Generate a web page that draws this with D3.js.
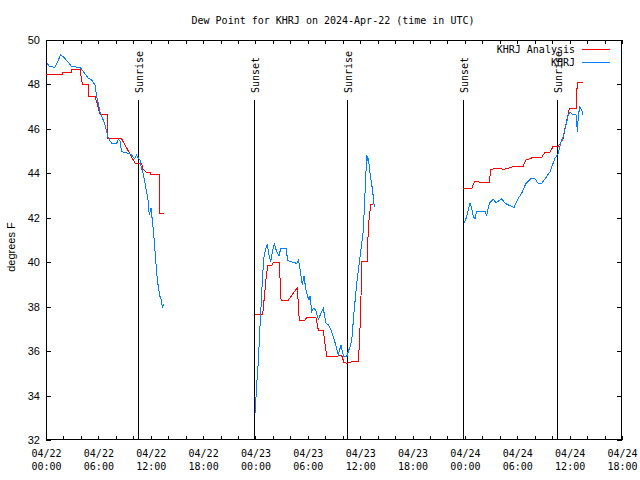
<!DOCTYPE html>
<html><head><meta charset="utf-8">
<script src="https://cdn.jsdelivr.net/npm/d3@7"></script>
<style>body{margin:0;background:#fff}svg{display:block}</style>
</head><body>
<svg id="chart" width="640" height="480"></svg>
<script>
// ---- data (UTC, 2024) ----
const analysisTimes = [
"04-22 00:00","04-22 01:50","04-22 01:50","04-22 02:57","04-22 02:57","04-22 03:54","04-22 04:00","04-22 04:10",
"04-22 04:51","04-22 04:51","04-22 05:37","04-22 06:11","04-22 07:01","04-22 07:01","04-22 08:40","04-22 10:12",
"04-22 10:58","04-22 11:05","04-22 11:30","04-22 11:55","04-22 11:58","04-22 12:57","04-22 12:57","04-22 13:33",
null,
"04-22 23:57","04-23 00:50","04-23 01:12","04-23 01:24","04-23 01:52","04-23 02:03","04-23 02:44","04-23 02:56",
"04-23 03:46","04-23 04:48","04-23 05:01","04-23 05:41","04-23 05:52","04-23 06:56","04-23 07:12","04-23 07:46",
"04-23 07:58","04-23 08:10","04-23 09:19","04-23 09:30","04-23 09:53","04-23 10:09","04-23 10:31","04-23 11:02",
"04-23 11:47","04-23 11:54","04-23 12:04","04-23 12:10","04-23 12:49","04-23 12:56","04-23 13:12","04-23 13:30",
null,
"04-23 23:49","04-24 00:47","04-24 01:09","04-24 01:55","04-24 02:48","04-24 02:57","04-24 03:56","04-24 04:24",
"04-24 04:58","04-24 05:44","04-24 06:41","04-24 07:00","04-24 07:50","04-24 08:48","04-24 09:11","04-24 09:45",
"04-24 10:08","04-24 10:42","04-24 10:59","04-24 11:16","04-24 11:28","04-24 11:58","04-24 12:44","04-24 12:48",
"04-24 12:53","04-24 13:30"
];
const analysisValues = [
48.45,48.45,48.55,48.55,48.68,48.68,48.40,48.02,
48.02,47.48,47.48,46.67,46.67,45.55,45.55,44.46,
44.46,44.20,44.05,44.05,43.96,43.96,42.20,42.20,
null,
37.66,37.66,39.20,39.85,39.85,39.98,39.98,38.30,
38.30,38.85,37.40,37.40,37.52,37.52,36.95,36.95,
36.35,35.75,35.75,35.80,35.80,35.48,35.45,35.52,
35.52,36.28,37.85,40.03,40.03,41.60,42.58,42.62,
null,
43.33,43.33,43.65,43.58,43.58,44.18,44.23,44.18,
44.23,44.33,44.33,44.60,44.72,44.72,44.95,44.95,
45.23,45.23,45.38,45.58,46.02,46.90,46.90,47.50,
48.08,48.08
];
const obsTimes = [
"04-22 00:05","04-22 00:27","04-22 01:02","04-22 01:25","04-22 01:41","04-22 01:59","04-22 02:33","04-22 02:57",
"04-22 03:54","04-22 04:51","04-22 05:14","04-22 05:37","04-22 05:49","04-22 06:11","04-22 06:46","04-22 07:08",
"04-22 07:32","04-22 08:06","04-22 08:17","04-22 08:29","04-22 08:40","04-22 09:26","04-22 09:49","04-22 10:00",
"04-22 10:12","04-22 10:23","04-22 10:35","04-22 10:46","04-22 10:51","04-22 11:05","04-22 11:14","04-22 11:32",
"04-22 11:43","04-22 11:50","04-22 12:02","04-22 12:07","04-22 12:18","04-22 12:29","04-22 12:41","04-22 12:52",
"04-22 13:04","04-22 13:15","04-22 13:19","04-22 13:31",
null,
"04-22 23:58","04-23 00:09","04-23 00:20","04-23 00:31","04-23 00:36","04-23 00:43","04-23 00:50","04-23 00:59",
"04-23 01:12","04-23 01:21","04-23 01:35","04-23 01:45","04-23 01:56","04-23 02:10","04-23 02:26","04-23 02:42",
"04-23 02:54","04-23 03:30","04-23 03:42","04-23 03:58","04-23 04:44","04-23 04:55","04-23 05:02","04-23 05:11",
"04-23 05:22","04-23 05:34","04-23 05:45","04-23 05:59","04-23 06:08","04-23 06:15","04-23 06:27","04-23 06:38",
"04-23 06:54","04-23 07:12","04-23 07:46","04-23 08:05","04-23 08:21","04-23 08:37","04-23 08:55","04-23 09:12",
"04-23 09:30","04-23 09:48","04-23 10:00","04-23 10:09","04-23 10:27","04-23 10:38","04-23 10:50","04-23 11:02",
"04-23 11:17","04-23 11:36","04-23 11:59","04-23 12:22","04-23 12:33","04-23 12:45","04-23 12:52","04-23 12:56",
"04-23 13:08","04-23 13:23","04-23 13:30","04-23 13:37",
null,
"04-23 23:56","04-24 00:12","04-24 00:35","04-24 00:47","04-24 00:58","04-24 01:09","04-24 01:21","04-24 02:18",
"04-24 02:30","04-24 02:48","04-24 03:15","04-24 03:34","04-24 04:13","04-24 04:36","04-24 04:58","04-24 05:38",
"04-24 06:07","04-24 06:30","04-24 07:00","04-24 07:32","04-24 08:02","04-24 08:24","04-24 08:48","04-24 09:11",
"04-24 09:45","04-24 10:19","04-24 10:42","04-24 10:59","04-24 11:16","04-24 11:35","04-24 11:51","04-24 12:02",
"04-24 12:21","04-24 12:44","04-24 12:53","04-24 13:00","04-24 13:11","04-24 13:23","04-24 13:30"
];
const obsValues = [
48.95,48.80,48.77,49.10,49.33,49.25,49.00,48.80,
48.77,48.28,48.20,47.98,47.45,46.78,46.18,45.58,
45.35,45.35,45.53,45.45,44.97,44.90,44.83,44.70,
44.68,44.83,44.68,44.60,44.37,44.07,43.77,43.17,
42.72,42.13,42.42,42.13,41.45,40.55,39.50,38.90,
38.45,38.30,37.93,38.12,
null,
33.23,34.55,35.52,37.10,37.70,38.60,39.50,40.25,
40.63,40.82,40.25,40.03,40.47,40.82,40.47,40.28,
40.63,40.63,40.07,40.03,39.95,40.07,39.88,39.50,
38.98,39.38,38.83,38.45,38.30,38.48,37.77,37.93,
37.85,37.43,37.93,37.25,37.18,36.98,36.65,36.28,
35.83,36.28,35.90,35.75,35.75,35.97,36.20,36.50,
37.70,39.05,40.25,41.45,43.10,44.83,44.60,44.68,
44.00,43.33,42.95,42.50,
null,
41.75,42.05,42.65,42.42,42.05,41.95,42.28,42.28,
42.12,42.65,42.83,42.68,42.85,42.65,42.58,42.47,
42.88,43.10,43.55,43.75,43.75,43.55,43.55,43.75,
44.07,44.68,44.90,45.40,45.65,46.18,46.63,46.75,
46.63,46.63,45.88,46.63,47.00,46.85,46.63
];
const sunTimes = ["04-22 10:32","04-22 23:51","04-23 10:31","04-23 23:50","04-24 10:30"];
const sunLabels = ["Sunrise","Sunset","Sunrise","Sunset","Sunrise"];
const seriesNames = ["KHRJ Analysis","KHRJ"];
const seriesColors = ["#ff0000","#0080ff"];
const yTicks = [32,34,36,38,40,42,44,46,48,50];
const xStart = "04-22 00:00", xEnd = "04-24 18:00";
const titleText = "Dew Point for KHRJ on 2024-Apr-22 (time in UTC)";
const yLabel = "degrees F";

// ---- drawing ----
const parse = d3.utcParse("%Y-%m-%d %H:%M");
const P = s => parse("2024-" + s);
const mono = "'DejaVu Sans Mono', monospace";
const sans = "'Liberation Sans', Arial, sans-serif";
const L = 46, R = 622, T = 40, B = 440;
const svg = d3.select("#chart");
const x = d3.scaleUtc().domain([P(xStart), P(xEnd)]).range([L, R]);
const y = d3.scaleLinear().domain([32, 50]).range([B, T]);

function clean(g){ g.select(".domain").remove(); }

// minor ticks every 2h (bottom / top)
svg.append("g").attr("transform",`translate(0,${B})`)
  .call(d3.axisBottom(x).ticks(d3.utcHour.every(2)).tickSize(-4).tickFormat(""))
  .call(clean).attr("shape-rendering","crispEdges");
svg.append("g").attr("transform",`translate(0,${T})`)
  .call(d3.axisTop(x).ticks(d3.utcHour.every(2)).tickSize(-4).tickFormat(""))
  .call(clean).attr("shape-rendering","crispEdges");
// labels every 6h
const fmtD = d3.utcFormat("%m/%d"), fmtT = d3.utcFormat("%H:%M");
const xl = svg.append("g").attr("transform",`translate(0,${B})`)
  .call(d3.axisBottom(x).ticks(d3.utcHour.every(6)).tickSize(0).tickFormat(""))
  .call(clean);
xl.selectAll(".tick text").remove();
xl.selectAll(".tick").each(function(d){
  const t = d3.select(this).append("text").attr("fill","#000")
    .attr("font-family",mono).attr("font-size","10px").attr("text-anchor","middle");
  t.append("tspan").attr("x",0).attr("y",17).text(fmtD(d));
  t.append("tspan").attr("x",0).attr("y",30).text(fmtT(d));
});
// y axes
svg.append("g").attr("transform",`translate(${L},0)`)
  .call(d3.axisLeft(y).tickValues(yTicks).tickSize(-5).tickPadding(6))
  .call(clean).attr("shape-rendering","crispEdges")
  .selectAll("text").attr("font-family",sans).attr("font-size","11px").attr("fill","#000");
svg.append("g").attr("transform",`translate(${R},0)`)
  .call(d3.axisRight(y).tickValues(yTicks).tickSize(-5).tickFormat(""))
  .call(clean).attr("shape-rendering","crispEdges");
svg.selectAll(".tick line").attr("stroke","#000");
svg.selectAll("g").attr("font-family",null);

// frame
svg.append("rect").attr("x",L+0.5).attr("y",T+0.5).attr("width",R-L-1).attr("height",B-T-1)
  .attr("fill","none").attr("stroke","#000").attr("shape-rendering","crispEdges");

// sunrise/sunset lines
sunTimes.forEach((s,i)=>{
  const sx = Math.round(x(P(s))) + 0.5;
  svg.append("line").attr("x1",sx).attr("x2",sx).attr("y1",100).attr("y2",B)
    .attr("stroke","#000").attr("shape-rendering","crispEdges");
  svg.append("text").attr("transform",`translate(${sx+4},93) rotate(-90)`)
    .attr("font-family",mono).attr("font-size","10px").attr("text-anchor","start").text(sunLabels[i]);
});

// series
function pts(times, vals){ return times.map((t,i)=>({t: t ? P(t) : null, v: vals[i]})); }
const line = d3.line().defined(d=>d.v!=null).x(d=>x(d.t)).y(d=>y(d.v));
[[analysisTimes,analysisValues],[obsTimes,obsValues]].forEach(([t,v],i)=>{
  svg.append("path").datum(pts(t,v)).attr("d",line).attr("fill","none")
    .attr("stroke",seriesColors[i]).attr("stroke-width",1).attr("shape-rendering","crispEdges");
});

// legend
seriesNames.forEach((n,i)=>{
  const ly = 49.5 + i*13;
  svg.append("text").attr("x",575).attr("y",ly+3.5).attr("text-anchor","end")
    .attr("font-family",mono).attr("font-size","10px").text(n);
  svg.append("line").attr("x1",582).attr("x2",610).attr("y1",ly).attr("y2",ly)
    .attr("stroke",seriesColors[i]).attr("shape-rendering","crispEdges");
});

// title & y label
svg.append("text").attr("x",333).attr("y",24).attr("text-anchor","middle")
  .attr("font-family",mono).attr("font-size","10px").text(titleText);
svg.append("text").attr("transform","translate(15,247) rotate(-90)").attr("text-anchor","middle")
  .attr("font-family",sans).attr("font-size","11px").text(yLabel);
</script>
</body></html>
